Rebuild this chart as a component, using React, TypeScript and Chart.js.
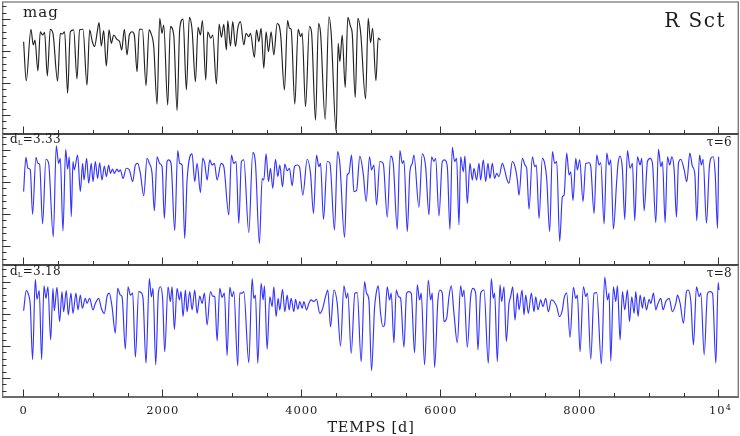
import React, { useEffect, useRef } from "react";
import { Chart, registerables } from "chart.js";

Chart.register(...registerables);

// ---------- DATA (x in days, y in panel units) ----------
const topDays = [5,43,110,144,168,211,245,278,307,346,389,427,494,533,562,595,638,677,725,773,811,859,917,955,994,1027,1061,1090,1123,1157,1195,1234,1267,1301,1349,1387,1416,1454,1493,1526,1565,1598,1637,1670,1714,1766,1810,1838,1877,1925,1963,1997,2021,2078,2117,2165,2213,2251,2299,2347,2390,2429,2477,2515,2549,2578,2626,2654,2698,2726,2779,2818,2851,2885,2923,2942,2981,3014,3053,3086,3125,3173,3206,3245,3269,3326,3355,3389,3422,3461,3494,3528,3566,3605,3653,3701,3758,3802,3830,3854,3907,3955,3989,4013,4061,4118,4147,4205,4248,4277,4344,4397,4430,4502,4531,4555,4589,4632,4670,4709,4733,4776,4814,4853,4925,4963,4997,5026,5074,5107,5141];
const topMag = [2.29,1.07,2.68,2.19,2.34,1.38,2.60,2.50,2.58,1.22,2.68,2.55,1.06,2.55,2.53,2.60,0.68,2.60,2.66,1.13,2.66,2.68,0.93,2.66,2.29,2.14,2.55,2.89,2.16,2.64,1.53,2.66,2.24,2.50,2.36,2.29,2.03,2.68,1.88,2.50,2.60,2.50,1.35,2.68,2.68,0.92,2.66,2.55,2.14,0.34,3.02,2.55,2.81,0.31,2.76,2.50,0.14,2.68,3.00,0.78,3.05,2.66,1.04,2.74,2.50,2.95,1.09,2.60,2.40,2.50,0.97,2.84,2.43,2.83,2.03,2.94,2.16,2.92,2.14,2.71,2.92,2.19,2.55,2.45,2.55,1.80,2.66,2.29,2.71,1.46,2.60,1.98,2.60,1.88,2.86,2.55,0.78,2.95,2.71,2.68,0.34,2.68,2.45,2.55,0.26,2.76,2.60,-0.16,2.86,2.57,-0.14,3.07,2.55,-0.52,2.24,1.67,2.50,0.86,3.05,2.76,2.55,0.55,3.02,2.60,0.50,3.02,2.26,2.71,1.07,2.40,2.34];

const midDays = [5,38,67,101,134,182,211,235,278,326,365,432,475,509,533,571,610,638,662,691,715,734,782,821,854,874,912,941,979,1003,1037,1070,1099,1133,1166,1195,1229,1253,1286,1310,1349,1373,1397,1435,1483,1526,1574,1613,1646,1685,1733,1781,1814,1853,1886,1925,1963,1997,2030,2069,2093,2126,2179,2222,2251,2285,2323,2357,2429,2467,2501,2549,2582,2611,2645,2683,2717,2750,2789,2846,2885,2957,2995,3029,3062,3101,3139,3173,3245,3302,3341,3398,3437,3461,3494,3528,3557,3590,3629,3662,3691,3730,3763,3797,3830,3869,3902,3941,3974,4022,4085,4133,4176,4219,4253,4277,4320,4373,4411,4478,4522,4555,4622,4661,4685,4723,4757,4795,4843,4891,4934,4982,5011,5045,5083,5131,5179,5237,5285,5323,5381,5419,5453,5477,5525,5563,5597,5621,5693,5741,5789,5837,5875,5909,5933,5981,6029,6062,6101,6139,6173,6206,6235,6269,6293,6331,6355,6389,6427,6461,6485,6523,6557,6581,6619,6653,6686,6715,6749,6782,6811,6845,6893,6926,6955,6989,7037,7075,7109,7133,7181,7219,7243,7277,7325,7358,7382,7421,7469,7502,7531,7574,7613,7646,7675,7718,7757,7781,7819,7853,7877,7910,7949,7973,8006,8054,8093,8141,8165,8213,8251,8285,8309,8357,8395,8429,8453,8491,8539,8558,8587,8621,8654,8693,8731,8765,8798,8837,8875,8899,8933,8981,9019,9053,9101,9139,9173,9197,9235,9269,9302,9331,9365,9398,9427,9461,9509,9547,9590,9629,9662,9691,9730,9758,9782,9830,9869,9893,9926,9955,9989,10005];
const midMag = [1.70,2.77,2.43,2.38,0.99,2.77,2.58,2.56,0.69,2.71,2.58,0.29,3.13,2.58,2.74,0.47,3.02,2.40,2.79,0.92,2.64,2.38,2.84,1.70,2.58,2.06,2.74,1.96,2.58,2.01,2.64,2.11,2.60,2.06,2.50,2.17,2.53,2.27,2.40,2.27,2.40,2.32,2.38,2.11,2.43,2.38,2.01,2.53,2.58,2.27,1.57,2.74,2.58,2.27,1.10,2.79,2.58,2.48,0.86,2.64,2.69,2.58,0.48,2.98,2.58,2.53,0.24,2.06,2.88,2.01,2.58,1.67,2.74,2.58,2.06,2.69,2.53,2.58,2.06,2.58,2.48,0.97,2.84,2.58,2.64,0.71,2.64,2.69,0.42,2.92,2.58,0.08,2.11,2.06,2.88,2.01,2.43,1.80,2.71,2.17,2.53,1.85,2.56,2.35,2.43,1.88,2.48,2.53,2.48,1.59,2.71,2.27,1.02,2.84,2.48,2.58,0.83,2.64,2.60,0.50,2.95,2.58,0.27,2.22,2.27,2.84,1.70,1.73,2.81,2.27,1.39,2.79,2.38,2.53,1.28,2.64,2.58,0.90,2.81,2.58,0.52,2.98,2.58,2.67,0.45,2.32,2.58,2.84,1.21,2.88,2.48,0.97,2.79,2.64,2.74,0.94,2.64,2.69,2.48,0.52,3.08,2.64,2.74,0.66,2.79,2.32,2.81,1.33,2.58,2.06,2.43,2.06,2.58,2.06,2.69,2.01,2.58,2.11,2.58,2.11,2.27,2.17,2.58,2.38,2.11,1.96,2.64,2.48,2.06,1.59,2.74,2.53,2.43,1.15,2.79,2.48,2.53,0.86,2.74,2.58,2.11,0.45,2.95,2.58,2.64,0.14,1.54,1.59,2.90,2.22,2.32,1.42,2.74,2.38,2.69,1.39,2.58,2.60,2.48,1.02,2.84,2.53,2.60,0.69,2.90,2.53,2.69,0.53,2.06,2.58,2.81,2.38,0.83,2.98,2.43,2.58,0.79,2.79,2.53,2.74,1.10,2.64,2.74,2.58,0.73,3.02,2.48,2.64,0.73,2.79,2.53,2.79,2.38,0.90,2.58,2.71,2.38,2.01,2.90,2.48,2.27,0.79,2.84,2.53,2.71,0.71,2.40,2.74,2.79,2.27,0.55,2.79];

const botDays = [5,43,77,101,134,173,197,230,264,298,326,355,394,427,446,485,523,557,581,619,648,686,715,758,787,821,850,893,917,955,1003,1037,1085,1123,1166,1205,1238,1277,1325,1358,1397,1421,1469,1507,1541,1574,1613,1661,1694,1723,1766,1814,1843,1867,1906,1944,1973,2006,2035,2083,2117,2141,2174,2213,2246,2270,2299,2333,2357,2395,2429,2467,2501,2539,2573,2606,2645,2693,2726,2755,2789,2827,2861,2894,2933,2971,3005,3029,3086,3115,3149,3173,3245,3293,3317,3341,3374,3422,3451,3470,3509,3547,3581,3605,3638,3667,3691,3730,3763,3797,3826,3854,3893,3917,3950,3979,4013,4037,4075,4109,4142,4181,4219,4267,4301,4349,4382,4421,4469,4517,4565,4613,4651,4670,4718,4771,4805,4862,4910,4939,4973,5011,5054,5078,5107,5141,5174,5198,5237,5270,5294,5333,5366,5400,5429,5477,5515,5549,5582,5630,5669,5702,5726,5774,5827,5861,5885,5918,5966,5995,6029,6053,6091,6125,6158,6197,6245,6293,6317,6341,6389,6437,6470,6509,6542,6581,6629,6691,6734,6763,6782,6821,6859,6883,6917,6950,6989,7013,7042,7075,7109,7133,7176,7205,7229,7267,7310,7349,7373,7406,7445,7478,7517,7555,7598,7637,7675,7714,7757,7781,7819,7867,7915,7949,7973,8011,8059,8093,8117,8165,8213,8251,8318,8366,8405,8429,8453,8491,8525,8549,8587,8621,8654,8693,8722,8755,8789,8813,8846,8875,8909,8933,8966,9005,9029,9067,9101,9125,9173,9206,9245,9293,9341,9389,9413,9451,9499,9542,9566,9605,9643,9686,9725,9749,9797,9845,9883,9917,9965,9998,10010];
const botMag = [2.10,2.73,2.59,2.28,0.58,3.08,2.46,2.73,0.58,2.88,2.49,2.85,1.19,2.80,2.10,2.83,1.76,2.70,2.07,2.73,1.97,2.65,2.02,2.65,2.13,2.59,2.18,2.49,2.33,2.49,2.13,2.33,2.49,2.18,2.02,2.54,2.65,2.23,1.40,2.80,2.59,2.54,0.90,2.85,2.59,2.65,0.65,2.70,2.67,2.49,0.46,3.11,2.54,2.80,0.41,2.65,2.85,2.44,0.82,2.85,2.39,2.85,1.52,2.80,2.44,2.70,1.92,2.75,2.07,2.70,2.13,2.75,2.02,2.56,2.33,2.65,1.66,2.70,2.56,2.54,1.16,2.80,2.52,2.65,0.70,2.83,2.54,2.70,0.38,2.65,2.65,2.70,0.48,3.11,2.49,2.59,0.46,2.96,2.44,2.88,0.90,2.54,2.23,2.85,1.92,2.49,2.13,2.77,2.07,2.59,2.13,2.49,2.07,2.46,2.15,2.39,2.18,2.39,2.13,2.33,2.44,2.39,2.46,2.02,2.13,2.54,2.75,1.60,2.75,2.33,1.00,2.88,2.49,2.65,0.77,2.65,2.67,0.51,3.01,2.65,2.44,0.23,2.18,2.65,2.88,2.02,1.60,1.66,2.85,2.44,2.65,1.10,2.75,2.54,2.49,0.96,2.65,2.70,2.65,0.79,2.91,2.44,2.65,0.41,3.06,2.44,2.65,0.33,2.44,2.75,2.65,1.76,1.86,2.54,2.88,2.02,1.10,2.88,2.54,2.75,0.96,2.54,2.80,2.65,0.88,2.65,2.75,0.46,3.11,2.49,2.65,0.51,2.91,2.39,2.85,1.14,2.33,2.54,2.85,1.81,2.65,2.13,2.75,1.97,2.59,2.02,2.65,2.07,2.54,2.13,2.44,2.23,2.49,2.07,2.44,2.39,2.23,1.92,2.13,2.49,2.65,1.27,2.83,2.49,2.59,0.82,2.85,2.54,2.65,0.59,2.65,2.67,0.44,3.15,2.44,2.65,0.53,2.85,2.39,2.88,1.19,2.70,2.13,2.75,1.76,2.54,2.02,2.70,1.92,2.59,2.18,2.54,2.13,2.46,2.33,2.65,2.13,2.28,2.49,2.13,2.39,2.49,2.07,2.33,2.59,2.33,1.71,2.70,2.75,2.39,1.03,2.85,2.54,2.65,0.72,2.65,2.70,2.65,0.46,2.98,2.75];

const xTickValues = [0,500,1000,1500,2000,2500,3000,3500,4000,4500,5000,5500,6000,6500,7000,7500,8000,8500,9000,9500,10000];
const xMajorTicks = [0,2000,4000,6000,8000,10000];
const xTickLabels = ["0","2000","4000","6000","8000","10"];
const yTickValues = [-0.4,-0.2,0,0.2,0.4,0.6,0.8,1,1.2,1.4,1.6,1.8,2,2.2,2.4,2.6,2.8,3,3.2,3.4];
const yMajorTicks = [0,1,2,3];

const X_MIN = -306;
const X_MAX = 10298;
const Y_MIN = -0.594;

const SERIF = '"DejaVu Serif", serif';
const INK = "#1c1c1c";

type Panel = {
  days: number[];
  mag: number[];
  color: string;
  top: number;
  height: number;
  padTop: number;
  padBottom: number;
  yMax: number;
  kind: "top" | "mid" | "bot";
  dl?: string;
  tau?: string;
};

const panels: Panel[] = [
  { days: topDays, mag: topMag, color: "#222222", top: 0, height: 137, padTop: 2, padBottom: 3, yMax: 3.531, kind: "top" },
  { days: midDays, mag: midMag, color: "#3434ff", top: 131, height: 137, padTop: 3, padBottom: 3, yMax: 3.5, kind: "mid", dl: "=3.33", tau: "τ=6" },
  { days: botDays, mag: botMag, color: "#3434ff", top: 262, height: 174, padTop: 3, padBottom: 39, yMax: 3.531, kind: "bot", dl: "=3.18", tau: "τ=8" },
];

function txt(ctx: CanvasRenderingContext2D, s: string, x: number, y: number, size: number, align: CanvasTextAlign, spacing: number) {
  ctx.save();
  ctx.font = `${size}px ${SERIF}`;
  (ctx as any).letterSpacing = `${spacing}px`;
  ctx.textAlign = align;
  ctx.textBaseline = "alphabetic";
  ctx.fillStyle = INK;
  ctx.fillText(s, x, y);
  ctx.restore();
}

function makePlugin(p: Panel) {
  return {
    id: "panelDecor" + p.kind,
    afterDatasetsDraw(chart: any) {
      const ctx: CanvasRenderingContext2D = chart.ctx;
      const a = chart.chartArea;
      const xs = chart.scales.x;
      const ys = chart.scales.y;
      const off = p.top;
      ctx.save();
      // frame
      ctx.lineWidth = 1.4;
      ctx.strokeStyle = "#3a3a3a";
      ctx.beginPath();
      ctx.moveTo(a.left, a.bottom);
      ctx.lineTo(a.right, a.bottom);
      ctx.stroke();
      ctx.strokeStyle = p.kind === "top" ? "#8a8a8a" : "#3a3a3a";
      ctx.beginPath();
      ctx.moveTo(a.left, a.top);
      ctx.lineTo(a.right, a.top);
      ctx.stroke();
      ctx.strokeStyle = "#7a7a7a";
      ctx.beginPath();
      ctx.moveTo(a.left + 0.7, a.top);
      ctx.lineTo(a.left + 0.7, a.bottom);
      ctx.moveTo(a.right - 0.7, a.top);
      ctx.lineTo(a.right - 0.7, a.bottom);
      ctx.stroke();
      // x ticks (bottom edge, pointing up)
      ctx.lineWidth = 1;
      ctx.strokeStyle = "#333";
      ctx.beginPath();
      for (const v of xTickValues) {
        const px = Math.round(xs.getPixelForValue(v)) + 0.5;
        const len = xMajorTicks.includes(v) ? 7.5 : 4;
        ctx.moveTo(px, a.bottom);
        ctx.lineTo(px, a.bottom - len);
      }
      // y ticks (left edge)
      for (const v of yTickValues) {
        const py = Math.round(ys.getPixelForValue(v)) + 0.5;
        const major = yMajorTicks.some((m) => Math.abs(m - v) < 1e-6);
        ctx.moveTo(a.left, py);
        ctx.lineTo(a.left + (major ? 8.5 : 4.5), py);
      }
      ctx.stroke();
      ctx.restore();

      // texts
      if (p.kind === "top") {
        txt(ctx, "mag", 23, 17 - off, 15, "left", 1);
        txt(ctx, "R Sct", 726, 26.5 - off, 20, "right", 1.5);
      } else {
        const base = (p.kind === "mid" ? 142.7 : 274.8) - off;
        ctx.save();
        ctx.font = `12px ${SERIF}`;
        const wd = ctx.measureText("d").width;
        ctx.restore();
        txt(ctx, "d", 10, base, 12, "left", 0);
        txt(ctx, "L", 10 + wd, base + 2, 7, "left", 0);
        txt(ctx, p.dl || "", 10 + wd + 5, base, 12, "left", 0.3);
        txt(ctx, p.tau || "", 732, (p.kind === "mid" ? 145.5 : 277.3) - off, 12, "right", 0.3);
      }
      if (p.kind === "bot") {
        const ly = 413.5 - off;
        xMajorTicks.forEach((v, i) => {
          const px = xs.getPixelForValue(v);
          if (v === 10000) {
            txt(ctx, xTickLabels[i], px + 7, ly, 11.5, "right", 0.8);
            txt(ctx, "4", px + 7.5, ly - 3.5, 8, "left", 0);
          } else {
            txt(ctx, xTickLabels[i], px + 0.5, ly, 11.5, "center", 1);
          }
        });
        txt(ctx, "TEMPS [d]", 371, 431.7 - off, 14.5, "center", 0.8);
      }
    },
  };
}

function PanelChart({ p }: { p: Panel }) {
  const ref = useRef<HTMLCanvasElement | null>(null);
  useEffect(() => {
    if (!ref.current) return;
    const n = Math.min(p.days.length, p.mag.length);
    const pts = [] as { x: number; y: number }[];
    for (let i = 0; i < n; i++) pts.push({ x: p.days[i], y: p.mag[i] });
    const chart = new Chart(ref.current, {
      type: "line",
      data: {
        datasets: [
          {
            data: pts,
            borderColor: p.color,
            borderWidth: 1.15,
            pointRadius: 0,
            fill: false,
            tension: 0.4,
            cubicInterpolationMode: "monotone",
          } as any,
        ],
      },
      options: {
        animation: false,
        responsive: false,
        devicePixelRatio: 1,
        events: [],
        layout: { padding: { left: 2, right: 1, top: p.padTop, bottom: p.padBottom } },
        scales: {
          x: { type: "linear", min: X_MIN, max: X_MAX, display: false },
          y: { type: "linear", min: Y_MIN, max: p.yMax, display: false },
        },
        plugins: { legend: { display: false }, tooltip: { enabled: false } },
      },
      plugins: [makePlugin(p)],
    });
    return () => chart.destroy();
  }, [p]);
  return (
    <canvas
      ref={ref}
      width={740}
      height={p.height}
      style={{ position: "absolute", left: 0, top: p.top, width: 740, height: p.height, display: "block" }}
    />
  );
}

export default function App() {
  return (
    <div style={{ position: "absolute", left: 0, top: 0, width: 740, height: 436, background: "#fff", overflow: "hidden" }}>
      {panels.map((p) => (
        <PanelChart key={p.kind} p={p} />
      ))}
    </div>
  );
}
